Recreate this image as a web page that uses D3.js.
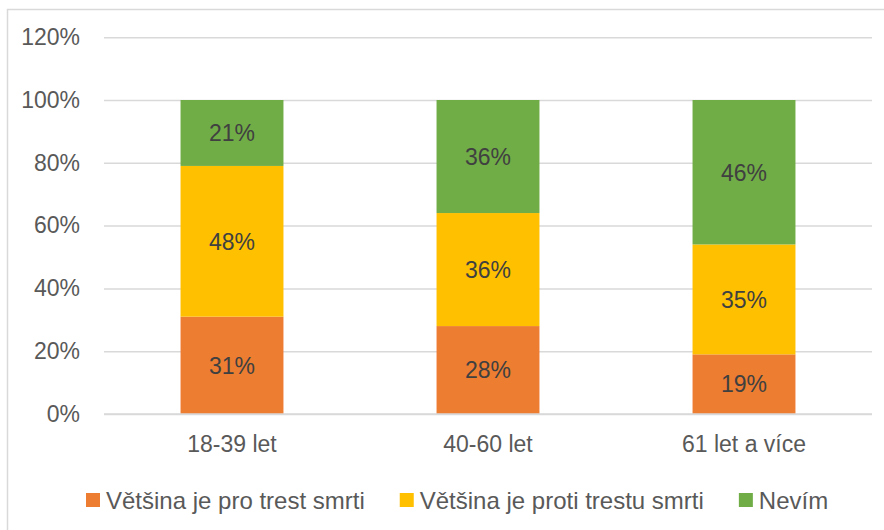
<!DOCTYPE html>
<html>
<head>
<meta charset="utf-8">
<script src="https://cdn.jsdelivr.net/npm/d3@7"></script>
<style>
  body { margin: 0; background: #fff; }
  text { font-family: "Liberation Sans", Arial, sans-serif; }
</style>
</head>
<body>
<svg id="chart" width="884" height="530"></svg>
<script>
const categories = ['18-39 let', '40-60 let', '61 let a více'];
const seriesNames = ['Většina je pro trest smrti', 'Většina je proti trestu smrti', 'Nevím'];
const proValues = [31, 28, 19];
const protiValues = [48, 36, 35];
const nevimValues = [21, 36, 46];
const yTicks = [0, 20, 40, 60, 80, 100, 120];
const colors = ['#ED7D31', '#FFC000', '#70AD47'];

const width = 884;
const height = 530;
const fontSize = 23;

const svg = d3.select('#chart');

// outer frame (runs off the right / bottom edge like the source)
svg.append('rect')
  .attr('x', 7.5).attr('y', 9.5)
  .attr('width', 900).attr('height', 600)
  .attr('fill', '#fff')
  .attr('stroke', '#D9D9D9')
  .attr('stroke-width', 1.5);

const x = d3.scaleBand()
  .domain(categories)
  .range([104, 872])
  .paddingInner(0.598)
  .paddingOuter(0.299);

const y = d3.scaleLinear()
  .domain([0, 120])
  .range([414, 37.2]);

// gridlines + tick labels
const yAxis = d3.axisLeft(y)
  .tickValues(yTicks)
  .tickSize(-(872 - 104))
  .tickPadding(24)
  .tickFormat(d => d + '%');

const gy = svg.append('g')
  .attr('transform', 'translate(104,0)')
  .call(yAxis);
gy.select('.domain').remove();
gy.selectAll('.tick line').attr('stroke', '#D9D9D9').attr('stroke-width', 1.5);
gy.selectAll('.tick text')
  .attr('fill', '#595959')
  .style('font-size', fontSize + 'px')
  .attr('font-family', '"Liberation Sans", Arial, sans-serif');

// stacked data
const rows = categories.map((c, i) => ({
  cat: c,
  [seriesNames[0]]: proValues[i],
  [seriesNames[1]]: protiValues[i],
  [seriesNames[2]]: nevimValues[i]
}));
const stacked = d3.stack().keys(seriesNames)(rows);

const layers = svg.selectAll('g.layer')
  .data(stacked)
  .enter().append('g')
  .attr('class', 'layer')
  .attr('fill', (d, i) => colors[i]);

layers.selectAll('rect')
  .data(d => d)
  .enter().append('rect')
  .attr('x', d => x(d.data.cat))
  .attr('y', d => y(d[1]))
  .attr('width', x.bandwidth())
  .attr('height', d => y(d[0]) - y(d[1]));

layers.selectAll('text')
  .data(d => d)
  .enter().append('text')
  .attr('x', d => x(d.data.cat) + x.bandwidth() / 2)
  .attr('y', d => (y(d[0]) + y(d[1])) / 2)
  .attr('dy', '0.36em')
  .attr('text-anchor', 'middle')
  .attr('fill', '#404040')
  .style('font-size', fontSize + 'px')
  .text(d => (d[1] - d[0]) + '%');

// category axis
const xAxis = d3.axisBottom(x).tickSize(0).tickPadding(22);
const gx = svg.append('g')
  .attr('transform', 'translate(0,414)')
  .call(xAxis);
gx.select('.domain').attr('stroke', '#D9D9D9').attr('stroke-width', 1.5)
  .attr('d', 'M104,0H872');
gx.selectAll('.tick text')
  .attr('fill', '#595959')
  .style('font-size', fontSize + 'px')
  .attr('font-family', '"Liberation Sans", Arial, sans-serif');

// legend
const legend = svg.append('g').attr('class', 'legend');
let lx = 86;
seriesNames.forEach((name, i) => {
  const item = legend.append('g').attr('transform', 'translate(' + lx + ',0)');
  item.append('rect')
    .attr('x', 0).attr('y', 493)
    .attr('width', 14).attr('height', 14)
    .attr('fill', colors[i]);
  const t = item.append('text')
    .attr('x', 20).attr('y', 500)
    .attr('dy', '0.36em')
    .attr('fill', '#595959')
    .style('font-size', '24px')
    .text(name);
  lx += 20 + t.node().getComputedTextLength() + 35;
});
</script>
</body>
</html>
